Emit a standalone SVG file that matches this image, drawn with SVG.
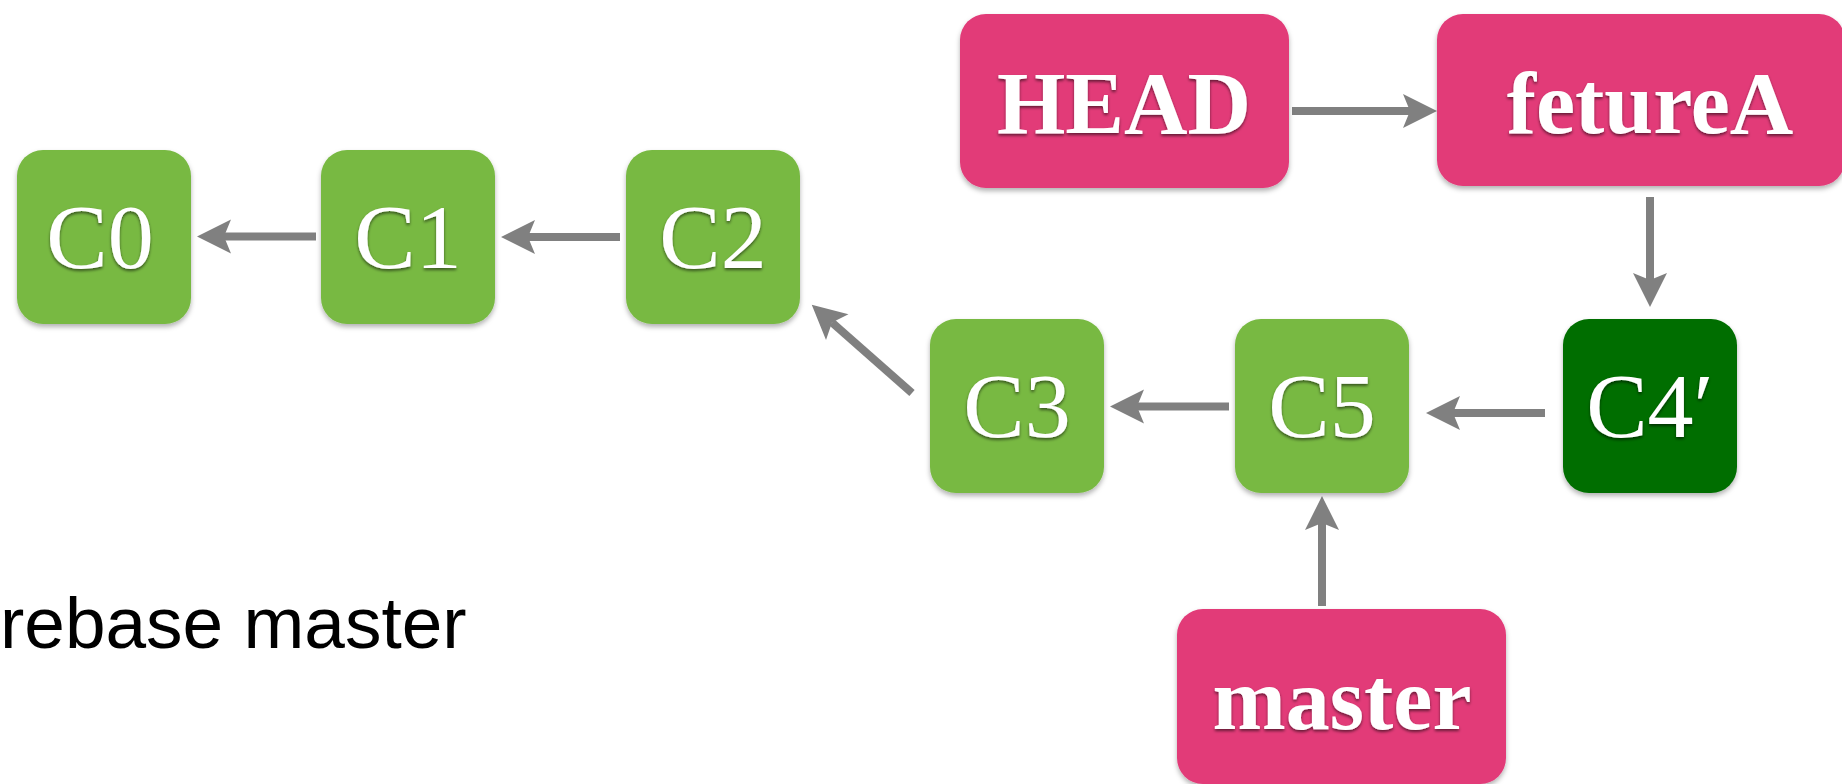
<svg xmlns="http://www.w3.org/2000/svg" width="1842" height="784" viewBox="0 0 1842 784">
<defs>
<filter id="boxsh" x="-10%" y="-10%" width="120%" height="125%">
<feDropShadow dx="0" dy="3" stdDeviation="2.5" flood-color="#000" flood-opacity="0.3"/>
</filter>
<filter id="txtsh" x="-10%" y="-10%" width="120%" height="130%">
<feDropShadow dx="0" dy="2" stdDeviation="1.5" flood-color="#000" flood-opacity="0.55"/>
</filter>
<marker id="ah" markerUnits="userSpaceOnUse" markerWidth="40" markerHeight="40" viewBox="-10 -20 40 40" refX="0" refY="0" orient="auto" overflow="visible">
<path d="M27,0 L-7,-17 L0,0 L-7,17 Z" fill="#808080"/>
</marker>
<style>
.commit{fill:#78B943;filter:url(#boxsh)}
.commit-new{fill:#006E00;filter:url(#boxsh)}
.ref{fill:#E23A78;filter:url(#boxsh)}
.clabel{font-family:"Liberation Serif","Times New Roman",serif;font-size:92px;fill:#fff;text-anchor:middle;filter:url(#txtsh)}
.rlabel{font-family:"Liberation Serif","Times New Roman",serif;font-size:88px;font-weight:bold;fill:#fff;text-anchor:middle;filter:url(#txtsh)}
.edge{stroke:#808080;stroke-width:8;fill:none;marker-end:url(#ah)}
.note{font-family:"Liberation Sans",Arial,sans-serif;font-size:73px;fill:#000}
</style>
</defs>
<rect width="1842" height="784" fill="#fff"/>
<g id="connectors">
<line class="edge" x1="316" y1="236.5" x2="224" y2="236.5"/>
<line class="edge" x1="620" y1="237" x2="528" y2="237"/>
<line class="edge" x1="912" y1="393" x2="832" y2="322.5"/>
<line class="edge" x1="1229" y1="406.5" x2="1137" y2="406.5"/>
<line class="edge" x1="1545" y1="413" x2="1453" y2="413"/>
<line class="edge" x1="1292" y1="111" x2="1410" y2="111"/>
<line class="edge" x1="1650" y1="197" x2="1650" y2="280"/>
<line class="edge" x1="1322" y1="606" x2="1322" y2="523"/>
</g>
<g id="C0"><rect class="commit" x="17" y="150" width="174" height="174" rx="26"/><text class="clabel" x="100" y="268">C0</text></g>
<g id="C1"><rect class="commit" x="321" y="150" width="174" height="174" rx="26"/><text class="clabel" x="408" y="268">C1</text></g>
<g id="C2"><rect class="commit" x="626" y="150" width="174" height="174" rx="26"/><text class="clabel" x="713" y="268">C2</text></g>
<g id="C3"><rect class="commit" x="930" y="319" width="174" height="174" rx="26"/><text class="clabel" x="1017" y="437">C3</text></g>
<g id="C5"><rect class="commit" x="1235" y="319" width="174" height="174" rx="26"/><text class="clabel" x="1322" y="437">C5</text></g>
<g id="C4prime"><rect class="commit-new" x="1563" y="319" width="174" height="174" rx="26"/><text class="clabel" x="1650" y="437">C4′</text></g>
<g id="HEAD"><rect class="ref" x="960" y="14" width="329" height="174" rx="26"/><text class="rlabel" x="1124" y="133">HEAD</text></g>
<g id="featureA"><rect class="ref" x="1437" y="14" width="408" height="172" rx="26"/><text class="rlabel" x="1650" y="133">fetureA</text></g>
<g id="master"><rect class="ref" x="1177" y="609" width="329" height="175" rx="26"/><text class="rlabel" x="1342" y="729">master</text></g>
<text class="note" x="0" y="648">rebase master</text>
</svg>
